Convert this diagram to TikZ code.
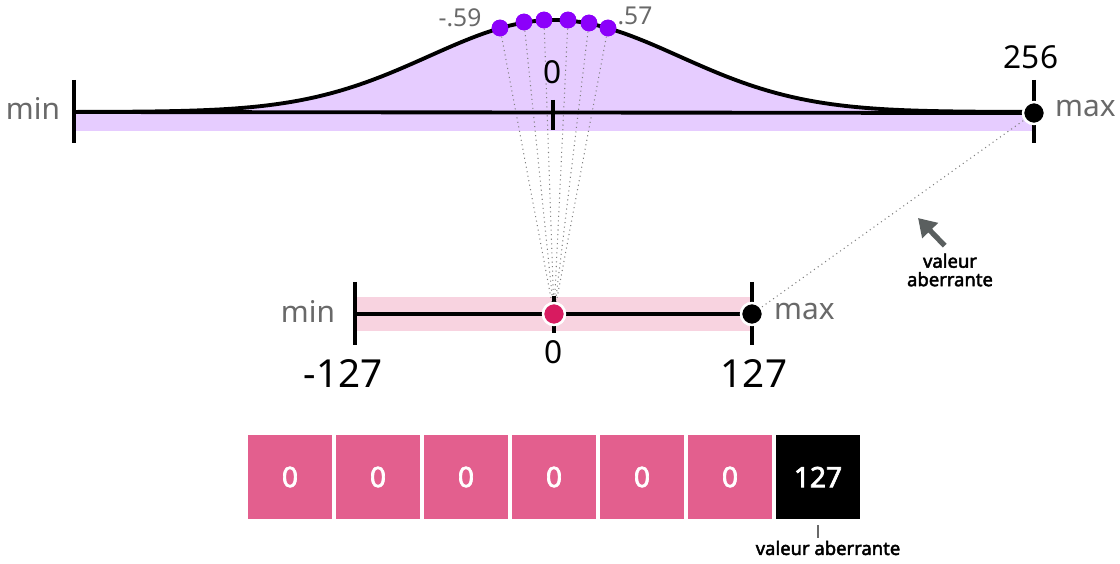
\documentclass[tikz,border=0pt]{standalone}
\usepackage{fontspec}
\setmainfont{Noto Sans}[AutoFakeBold=2.5]
\usetikzlibrary{arrows.meta}
\definecolor{violetdot}{RGB}{140,0,250}
\definecolor{violetfill}{RGB}{230,204,255}
\definecolor{pinkdot}{RGB}{216,27,96}
\definecolor{pinkband}{RGB}{248,211,224}
\definecolor{pinkcell}{RGB}{227,95,142}
\definecolor{labelgray}{RGB}{105,105,105}
\definecolor{arrowgray}{RGB}{90,95,95}
\begin{document}
\begin{tikzpicture}[x=0.02cm, y=-0.02cm,
        axis/.style={line width=2.2pt, black},
        dot/.style={circle, draw=white, line width=1.4pt, minimum size=12.5pt, inner sep=0pt},
        sample/.style={circle, fill=violetdot, minimum size=9.5pt, inner sep=0pt},
        link/.style={dotted, gray, line width=0.6pt},
        minmax/.style={text=labelgray, font=\fontsize{17}{17}\selectfont},
        num/.style={font=\fontsize{18}{18}\selectfont},
        bignum/.style={font=\fontsize{22}{22}\selectfont},
        small/.style={text=labelgray, font=\fontsize{14}{14}\selectfont},
        note/.style={font=\fontsize{10.5}{10.5}\selectfont\bfseries, align=center},
        cell/.style={rectangle, fill=pinkcell, text=white, minimum width=1.7cm, minimum height=1.7cm, inner sep=0pt, font=\fontsize{16}{16}\selectfont\bfseries}
    ]
        \useasboundingbox (0,0) rectangle (1120,564);

        % Distribution
        \fill[violetfill] (74,131) -- (74,112)
            -- plot[domain=-4.8:4.8, samples=120] ({554+100*\x},{112-92*exp(-\x*\x/3.125)})
            -- (1034,131) -- cycle;

        % Samples
        \node[sample] (s1) at (500,28) {};
        \node[sample] (s2) at (524,22) {};
        \node[sample] (s3) at (544,20) {};
        \node[sample] (s4) at (568,20) {};
        \node[sample] (s5) at (589,23) {};
        \node[sample] (s6) at (608,28) {};
        \node[small] (lo) at (460,18) {-.59};
        \node[small] (hi) at (635,16) {.57};

        % Quantized axis band
        \fill[pinkband] (355,297) rectangle (752,331);

        % Zero point and max point
        \node[dot, fill=pinkdot] (zero) at (554,314) {};
        \node[dot, fill=black] (qmax) at (752,314) {};
        \node[dot, fill=black] (fmax) at (1034,113) {};

        \foreach \s in {s1,s2,s3,s4,s5,s6}
            \draw[link] (\s) -- (zero);
        \draw[link] (qmax) -- (fmax);

        % Float axis
        \draw[axis] plot[domain=-4.8:4.8, samples=120] ({554+100*\x},{112-92*exp(-\x*\x/3.125)});
        \draw[axis] (74,112) -- (fmax);
        \draw[axis] (74,80) -- (74,143);
        \draw[axis] (553,100) -- (553,130);
        \draw[axis] (1034,80) -- (1034,143);
        \node[sample] at (s1) {};
        \node[sample] at (s2) {};
        \node[sample] at (s3) {};
        \node[sample] at (s4) {};
        \node[sample] at (s5) {};
        \node[sample] at (s6) {};
        \node[dot, fill=black] at (fmax) {};
        \node[minmax] (fminlbl) at (33,108) {min};
        \node[minmax, anchor=west] (fmaxlbl) at (1049,108) {max};
        \node[num] (fzero) at (553,72) {0};
        \node[num] (f256) at (1031,57) {256};

        % Int8 axis
        \draw[axis] (355,314) -- (qmax);
        \draw[axis] (355,282) -- (355,345);
        \draw[axis] (752,282) -- (752,345);
        \draw[axis] (554,296) -- (554,333);
        \node[dot, fill=pinkdot] at (zero) {};
        \node[dot, fill=black] at (qmax) {};
        \node[minmax] (qminlbl) at (308,311) {min};
        \node[minmax, anchor=west] (qmaxlbl) at (768,311) {max};
        \node[num] (qzero) at (554,352) {0};
        \node[bignum] (qlo) at (343,374) {-127};
        \node[bignum] (qhi) at (754,374) {127};

        % Outlier note
        \node[note] (annot) at (950,270) {valeur\\aberrante};
        \coordinate (tip) at (918,218);
        \draw[arrowgray, line width=3pt, -{Triangle[length=10pt, width=12pt]}] ([xshift=-3pt, yshift=1pt]annot.north) -- (tip);

        % Quantized values
        \foreach \i in {0,...,5}
            \node[cell] (c\i) at (290+88*\i,477) {0};
        \node[cell, fill=black] (c6) at (818,477) {127};
        \node[note] (outlbl) at (828,548) {valeur aberrante};
        \draw[labelgray, line width=0.6pt] ([yshift=-3pt]c6.south) -- ([yshift=-2pt]c6.south |- outlbl.north);
    \end{tikzpicture}
\end{document}
